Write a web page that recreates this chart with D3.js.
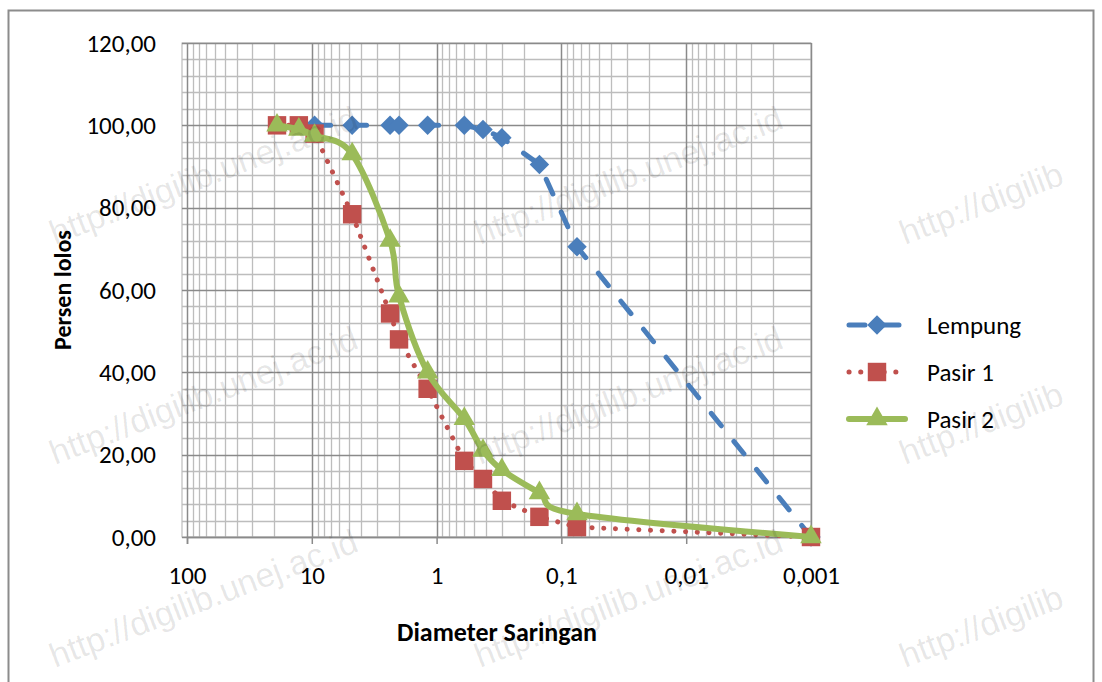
<!DOCTYPE html>
<html>
<head>
<meta charset="utf-8">
<script src="https://cdn.jsdelivr.net/npm/d3@7"></script>
<style>
  body { margin: 0; background: #fff; }
  svg { display: block; font-family: Carlito, Lato, "Open Sans", sans-serif; }
</style>
</head>
<body>
<svg id="chart" width="1102" height="682"></svg>
<script>
// sieve diameters (mm) and percent passing
const lempungD = [9.5, 4.75, 2.36, 2.0, 1.18, 0.6, 0.425, 0.3, 0.15, 0.075, 0.001];
const lempungP = [100, 100, 100, 100, 100, 100, 99, 97, 90.5, 70.5, 0];
const pasirD = [19, 12.7, 9.5, 4.75, 2.36, 2.0, 1.18, 0.6, 0.425, 0.3, 0.15, 0.075, 0.001];
const pasir1P = [100, 100, 98, 78.4, 54.3, 48, 36, 18.5, 14.1, 8.8, 4.9, 2.4, 0];
const pasir2P = [100, 99, 97.5, 93, 72, 58.5, 40, 28.7, 21, 16.3, 10.7, 5.6, 0];

const xTicks = [100, 10, 1, 0.1, 0.01, 0.001];
const xTickLabels = ["100", "10", "1", "0,1", "0,01", "0,001"];
const yTicks = [0, 20, 40, 60, 80, 100, 120];
const yTickLabels = ["0,00", "20,00", "40,00", "60,00", "80,00", "100,00", "120,00"];

const svg = d3.select("#chart");

// outer chart border
svg.append("rect")
    .attr("x", 8.5).attr("y", 10.5)
    .attr("width", 1085).attr("height", 700)
    .attr("fill", "#fff").attr("stroke", "#8c8c8c").attr("stroke-width", 2);

const x = d3.scaleLog().domain([100, 0.001]).range([187, 811]);
const y = d3.scaleLinear().domain([0, 120]).range([537, 43]);

// plot area
svg.append("rect")
    .attr("x", 182).attr("y", 43)
    .attr("width", 811 - 182).attr("height", 537 - 43)
    .attr("fill", "#fff").attr("stroke", "#b0b0b0").attr("stroke-width", 1);

const grid = svg.append("g");

// minor vertical gridlines (2..9 in each decade)
const minorX = [];
xTicks.slice(1).forEach(t => {
    for (let k = 2; k <= 9; k++) minorX.push(t * k);
});
grid.selectAll(".vminor").data(minorX).enter().append("line")
    .attr("x1", d => Math.round(x(d)) + 0.5).attr("x2", d => Math.round(x(d)) + 0.5)
    .attr("y1", 43).attr("y2", 537)
    .attr("stroke", "#bdbdbd").attr("stroke-width", 1.3);

// minor horizontal gridlines every 4
const minorY = d3.range(4, 120, 4).filter(v => v % 20 !== 0);
grid.selectAll(".hminor").data(minorY).enter().append("line")
    .attr("x1", 182).attr("x2", 811)
    .attr("y1", d => Math.round(y(d)) + 0.5).attr("y2", d => Math.round(y(d)) + 0.5)
    .attr("stroke", "#bdbdbd").attr("stroke-width", 1.3);

// major gridlines
grid.selectAll(".vmajor").data(xTicks).enter().append("line")
    .attr("x1", d => Math.round(x(d)) + 0.5).attr("x2", d => Math.round(x(d)) + 0.5)
    .attr("y1", 43).attr("y2", 537)
    .attr("stroke", "#8a8a8a").attr("stroke-width", 1.5);
grid.selectAll(".hmajor").data(yTicks).enter().append("line")
    .attr("x1", 182).attr("x2", 811)
    .attr("y1", d => Math.round(y(d)) + 0.5).attr("y2", d => Math.round(y(d)) + 0.5)
    .attr("stroke", "#8a8a8a").attr("stroke-width", 1.5);

// x axis
const xAxis = svg.append("g")
    .attr("transform", "translate(0,537)")
    .call(d3.axisBottom(x).tickValues(xTicks).tickSize(7).tickPadding(22)
        .tickFormat((d, i) => xTickLabels[i]));
xAxis.select(".domain").attr("stroke", "#8a8a8a").attr("stroke-width", 1.5);
xAxis.selectAll(".tick line").attr("stroke", "#8a8a8a").attr("stroke-width", 1.5);
xAxis.selectAll("text").attr("font-size", 25).attr("fill", "#000")
    .attr("font-family", "Carlito, Lato, sans-serif");

// y axis labels
const yAxis = svg.append("g")
    .attr("transform", "translate(187,0)")
    .call(d3.axisLeft(y).tickValues(yTicks).tickSize(0).tickPadding(31)
        .tickFormat((d, i) => yTickLabels[i]));
yAxis.select(".domain").remove();
yAxis.selectAll("text").attr("font-size", 25).attr("fill", "#000")
    .attr("font-family", "Carlito, Lato, sans-serif");

// axis titles
svg.append("text")
    .attr("x", 497).attr("y", 641)
    .attr("text-anchor", "middle")
    .attr("font-size", 26).attr("font-weight", "bold")
    .text("Diameter Saringan");
svg.append("text")
    .attr("transform", "translate(71,290) rotate(-90)")
    .attr("text-anchor", "middle")
    .attr("font-size", 24).attr("font-weight", "bold")
    .text("Persen lolos");

// series
const series = [
    { name: "Lempung", d: lempungD, p: lempungP, color: "#4a7ebb", dash: "16,20", width: 5,
      curve: d3.curveLinear, symbol: d3.symbolSquare, size: 190, rot: 45 },
    { name: "Pasir 1", d: pasirD, p: pasir1P, color: "#c0504d", dash: "0.1,11.6", width: 5,
      curve: d3.curveLinear, symbol: d3.symbolSquare, size: 340, rot: 0 },
    { name: "Pasir 2", d: pasirD, p: pasir2P, color: "#9bbb59", dash: null, width: 6,
      curve: d3.curveCatmullRom.alpha(0), symbol: d3.symbolTriangle, size: 200, rot: 0 }
];

const plot = svg.append("g");
series.forEach(s => {
    const pts = s.d.map((d, i) => [d, s.p[i]]);
    const line = d3.line().x(d => x(d[0])).y(d => y(d[1])).curve(s.curve);
    plot.append("path")
        .datum(pts)
        .attr("d", line)
        .attr("fill", "none")
        .attr("stroke", s.color)
        .attr("stroke-width", s.width)
        .attr("stroke-linecap", "round")
        .attr("stroke-linejoin", "round")
        .attr("stroke-dasharray", s.dash);
    plot.selectAll(null).data(pts).enter().append("path")
        .attr("d", d3.symbol().type(s.symbol).size(s.size))
        .attr("transform", d => `translate(${x(d[0])},${y(d[1])}) rotate(${s.rot})`)
        .attr("fill", s.color);
});

// legend
const legend = svg.append("g");
series.forEach((s, i) => {
    const ly = 325 + i * 47;
    legend.append("line")
        .attr("x1", 849).attr("x2", 905).attr("y1", ly).attr("y2", ly)
        .attr("stroke", s.color).attr("stroke-width", s.width)
        .attr("stroke-linecap", "round")
        .attr("stroke-dasharray", s.dash ? (i === 0 ? "16,18" : s.dash) : null);
    legend.append("path")
        .attr("d", d3.symbol().type(s.symbol).size(s.size))
        .attr("transform", `translate(877,${ly}) rotate(${s.rot})`)
        .attr("fill", s.color);
    legend.append("text")
        .attr("x", 927).attr("y", ly + 9)
        .attr("font-size", 25)
        .text(s.name);
});

// watermark
const wm = svg.append("g").attr("pointer-events", "none");
[245, 465, 668].forEach(wy => {
    [[55, "http://digilib.unej.ac.id"], [480, "http://digilib.unej.ac.id"], [905, "http://digilib"]]
        .forEach(([wx, txt]) => {
            wm.append("text")
                .attr("transform", `translate(${wx},${wy}) rotate(-21)`)
                .attr("font-family", "Liberation Sans, Arial, sans-serif")
                .attr("font-size", 34)
                .attr("fill", "#000")
                .attr("fill-opacity", 0.1)
                .text(txt);
        });
});
</script>
</body>
</html>
